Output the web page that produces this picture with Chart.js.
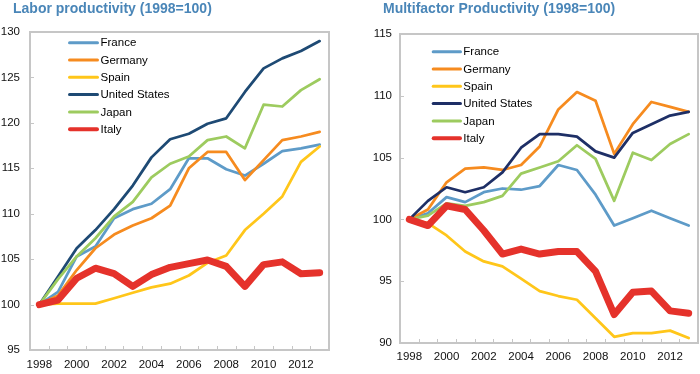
<!DOCTYPE html>
<html><head><meta charset="utf-8">
<script src="https://cdn.jsdelivr.net/npm/chart.js@4.4.1/dist/chart.umd.min.js"></script>
<style>
html,body{margin:0;padding:0;background:#fff;width:700px;height:374px;overflow:hidden;}
.wrap{position:absolute;top:0;width:350px;height:374px;}
.title{position:absolute;top:0;font:bold 14px "Liberation Sans",Arial,sans-serif;color:#4A86B8;white-space:nowrap;line-height:16px;}
</style></head><body>
<div class="wrap" style="left:0"><canvas id="c1" width="350" height="374"></canvas></div>
<div class="wrap" style="left:350px"><canvas id="c2" width="350" height="374"></canvas></div>
<div class="title" style="left:13px">Labor productivity (1998=100)</div>
<div class="title" style="left:383px">Multifactor Productivity (1998=100)</div>
<script>
const years = ['1998','1999','2000','2001','2002','2003','2004','2005','2006','2007','2008','2009','2010','2011','2012','2013'];
const countries = ['France','Germany','Spain','United States','Japan','Italy'];

// Labor productivity (1998=100)
const lpFrance  = [100,101.4,105.3,106.4,109.5,110.5,111.1,112.7,116.1,116.1,114.9,114.2,115.5,116.9,117.2,117.6];
const lpGermany = [100,101.0,103.8,106.2,107.7,108.7,109.5,110.9,115.0,116.8,116.8,113.7,115.9,118.1,118.5,119.0];
const lpSpain   = [100,100.1,100.1,100.1,100.7,101.3,101.9,102.3,103.2,104.6,105.4,108.2,110.0,111.9,115.7,117.4];
const lpUS      = [100,103.1,106.2,108.2,110.5,113.1,116.2,118.2,118.8,119.9,120.5,123.4,126.0,127.1,127.9,129.0];
const lpJapan   = [100,102.8,105.3,107.3,109.7,111.3,114.0,115.5,116.3,118.1,118.5,117.2,122.0,121.8,123.6,124.8];
const lpItaly   = [100,100.5,102.9,104.0,103.4,102.0,103.3,104.1,104.5,104.9,104.2,102.0,104.4,104.7,103.4,103.5];
const lpYTicks  = [95,100,105,110,115,120,125,130];

// Multifactor productivity (1998=100)
const mfpFrance  = [100,100.5,101.8,101.4,102.2,102.5,102.4,102.7,104.4,104.0,102.0,99.5,100.1,100.7,100.1,99.5];
const mfpGermany = [100,100.8,103.0,104.1,104.2,104.0,104.4,105.9,108.9,110.3,109.6,105.3,107.7,109.5,109.1,108.7];
const mfpSpain   = [100,99.7,98.7,97.4,96.6,96.2,95.2,94.2,93.8,93.5,92.0,90.5,90.8,90.8,91.0,90.4];
const mfpUS      = [100,101.5,102.6,102.2,102.6,103.8,105.8,106.9,106.9,106.7,105.5,105.0,107.0,107.7,108.4,108.7];
const mfpJapan   = [100,100.3,101.3,101.1,101.4,101.9,103.7,104.2,104.7,106.0,104.9,101.5,105.4,104.8,106.1,106.9];
const mfpItaly   = [100,99.5,101.1,100.8,99.1,97.2,97.6,97.2,97.4,97.4,95.8,92.3,94.1,94.2,92.6,92.4];
const mfpYTicks  = [90,95,100,105,110,115];

const FONT = '"Liberation Sans", Arial, sans-serif';

const framePlugin = {
  id: 'frame',
  beforeDatasetsDraw(chart) {
    const {ctx, chartArea: a, scales: {x, y}} = chart;
    ctx.save();
    ctx.strokeStyle = '#C6C6C6';
    ctx.lineWidth = 2;
    ctx.strokeRect(a.left, a.top, a.right - a.left, a.bottom - a.top);
    ctx.lineWidth = 1;
    ctx.beginPath();
    for (let i = 1; i < x.ticks.length; i++) {
      const px = Math.round(x.getPixelForValue(i - 0.5)) + 0.5;
      ctx.moveTo(px, a.bottom); ctx.lineTo(px, a.bottom - 4);
    }
    y.ticks.forEach(t => {
      const py = Math.round(y.getPixelForValue(t.value)) + 0.5;
      ctx.moveTo(a.left, py); ctx.lineTo(a.left + 4, py);
    });
    ctx.stroke();
    ctx.restore();
  }
};

const legendPlugin = {
  id: 'inlegend',
  afterDatasetsDraw(chart, args, o) {
    const {ctx, chartArea: a} = chart;
    ctx.save();
    ctx.font = '11.5px ' + FONT;
    ctx.textBaseline = 'middle';
    chart.data.datasets.forEach((ds, i) => {
      const yy = a.top + o.top + i * o.gap;
      const lw = ds.legendWidth || 3;
      ctx.strokeStyle = ds.borderColor;
      ctx.lineWidth = lw;
      ctx.lineCap = 'round';
      ctx.beginPath();
      ctx.moveTo(a.left + o.x0 + lw / 2, yy);
      ctx.lineTo(a.left + o.x1 - lw / 2, yy);
      ctx.stroke();
      ctx.fillStyle = '#000';
      ctx.fillText(ds.label, a.left + o.tx, yy + 0.5);
    });
    ctx.restore();
  }
};

function makeDatasets(series, colors) {
  return series.map((d, i) => ({
    label: countries[i],
    data: d,
    borderColor: colors[i],
    backgroundColor: colors[i],
    borderWidth: i === 5 ? 7 : 2.75,
    legendWidth: i === 5 ? 4 : 3,
    pointRadius: 0,
    tension: 0,
    fill: false,
    borderJoinStyle: 'round',
    borderCapStyle: 'round',
    order: 5 - i
  }));
}

function makeChart(id, series, colors, yTicks, cfg) {
  return new Chart(document.getElementById(id), {
    type: 'line',
    data: { labels: years, datasets: makeDatasets(series, colors) },
    plugins: [framePlugin, legendPlugin],
    options: {
      responsive: false,
      animation: false,
      layout: { padding: cfg.padding },
      plugins: {
        legend: { display: false },
        tooltip: { enabled: false },
        title: { display: false },
        inlegend: cfg.legend
      },
      scales: {
        x: {
          type: 'category',
          offset: true,
          grid: { display: false, drawTicks: false },
          border: { display: false },
          ticks: {
            autoSkip: false, maxRotation: 0, minRotation: 0,
            padding: cfg.xPad,
            color: '#111',
            font: { family: FONT, size: 11.5 },
            callback: function (v, i) { return i % 2 === 0 ? this.getLabelForValue(v) : ''; }
          },
          afterFit: s => { s.height = cfg.xHeight; }
        },
        y: {
          min: yTicks[0],
          max: yTicks[yTicks.length - 1],
          grid: { display: false, drawTicks: false },
          border: { display: false },
          ticks: {
            stepSize: yTicks[1] - yTicks[0],
            padding: cfg.yPad,
            color: '#111',
            font: { family: FONT, size: 11.5 }
          },
          afterFit: s => { s.width = cfg.yWidth; }
        }
      }
    }
  });
}

makeChart('c1',
  [lpFrance, lpGermany, lpSpain, lpUS, lpJapan, lpItaly],
  ['#5E9BC8', '#F68B1F', '#FFC61A', '#1E4A74', '#9DCB5F', '#E5322B'],
  lpYTicks,
  { padding: { left: 0, right: 21, top: 32, bottom: 0 }, xHeight: 24, xPad: 8, yPad: 10, yWidth: 30,
    legend: { top: 10.7, gap: 17.3, x0: 38, x1: 69, tx: 70.5 } });

makeChart('c2',
  [mfpFrance, mfpGermany, mfpSpain, mfpUS, mfpJapan, mfpItaly],
  ['#5E9BC8', '#F68B1F', '#FFC61A', '#1E2F66', '#9DCB5F', '#E5322B'],
  mfpYTicks,
  { padding: { left: 0, right: 2, top: 34, bottom: 7 }, xHeight: 24, xPad: 7, yPad: 8, yWidth: 50,
    legend: { top: 17.7, gap: 17.3, x0: 31.7, x1: 62, tx: 63.3 } });
</script>
</body></html>
